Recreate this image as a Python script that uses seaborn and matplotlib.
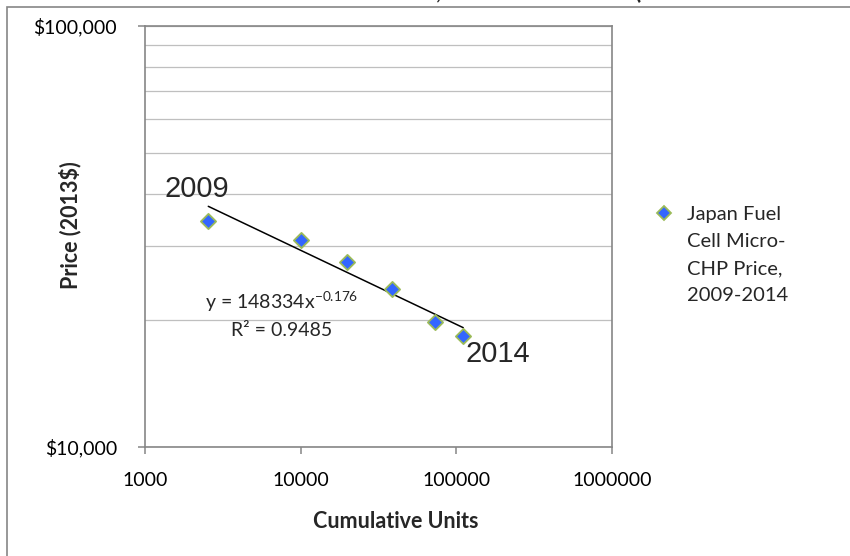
import numpy as np
import pandas as pd
import matplotlib
matplotlib.use("Agg")
import matplotlib.pyplot as plt
import matplotlib.patches as mpatches
from matplotlib.lines import Line2D
from matplotlib.ticker import FixedLocator, NullFormatter, NullLocator
import seaborn as sns

# Japan residential fuel cell (micro-CHP) price versus cumulative units installed
years = [2009, 2010, 2011, 2012, 2013, 2014]
cumulative_units = [2550, 10100, 19800, 38400, 72900, 110700]
price_2013_usd = [34500, 31000, 27500, 23700, 19850, 18350]

# Power-law trendline y = a * x^b
fit_a = 148334
fit_b = -0.176
fit_r2 = 0.9485

series_label = "Japan Fuel\nCell Micro-\nCHP Price,\n2009-2014"
x_ticks = [1000, 10000, 100000, 1000000]
x_tick_labels = ["1000", "10000", "100000", "1000000"]
y_ticks = [10000, 100000]
y_tick_labels = ["$10,000", "$100,000"]

df = pd.DataFrame({"year": years, "units": cumulative_units, "price": price_2013_usd})

sns.set_theme(style="white")
plt.rcParams["font.family"] = ["Lato", "DejaVu Sans"]
plt.rcParams["mathtext.fontset"] = "custom"
plt.rcParams["mathtext.rm"] = "Lato"
plt.rcParams["mathtext.it"] = "Lato"

W, H = 850, 556
fig = plt.figure(figsize=(W / 100, H / 100), dpi=100)
fig.patch.set_facecolor("white")

left, right, top, bottom = 145, 612, 26, 447
ax = fig.add_axes([left / W, 1 - bottom / H, (right - left) / W, (bottom - top) / H])

axis_grey = "#868686"
grid_grey = "#BFBFBF"
face_blue = "#3366FF"
edge_green = "#9BBB59"

# Trendline over the span of the data
trend_x = np.array([min(cumulative_units), max(cumulative_units)], dtype=float)
trend_df = pd.DataFrame({"units": trend_x, "price": fit_a * trend_x ** fit_b})
sns.lineplot(data=trend_df, x="units", y="price", color="black", linewidth=1.1, ax=ax,
             zorder=3)

sns.scatterplot(data=df, x="units", y="price", marker="D", s=60, color=face_blue,
                edgecolor=edge_green, linewidth=1.3, ax=ax, zorder=4, legend=False)

ax.set_xscale("log")
ax.set_yscale("log")
ax.set_xlim(1000, 1000000)
ax.set_ylim(10000, 100000)

ax.xaxis.set_major_locator(FixedLocator(x_ticks))
ax.set_xticklabels(x_tick_labels)
ax.xaxis.set_minor_locator(NullLocator())
ax.yaxis.set_major_locator(FixedLocator(y_ticks))
ax.set_yticklabels(y_tick_labels)
ax.yaxis.set_minor_locator(FixedLocator([v * 10000 for v in range(2, 10)]))
ax.yaxis.set_minor_formatter(NullFormatter())

ax.grid(False)
ax.grid(True, which="minor", axis="y", color=grid_grey, linewidth=0.9)
ax.grid(True, which="major", axis="y", color=grid_grey, linewidth=0.9)

for side in ["left", "bottom", "top", "right"]:
    ax.spines[side].set_visible(True)
    ax.spines[side].set_color(axis_grey)
    ax.spines[side].set_linewidth(1.2)

ax.tick_params(axis="both", which="major", direction="out", length=5, width=1.1,
               color=axis_grey, labelsize=14, labelcolor="black")
ax.tick_params(axis="x", which="major", pad=13)
ax.tick_params(axis="y", which="major", pad=15)
ax.tick_params(axis="y", which="minor", length=0)
ax.tick_params(bottom=True, left=True, top=False, right=False)

ax.set_xlabel("")
ax.set_ylabel("")
fig.text(396 / W, 1 - 522 / H, "Cumulative Units", ha="center", va="center",
         fontsize=15.5, fontweight="bold")
fig.text(70 / W, 1 - 225 / H, "Price (2013$)", ha="center", va="center",
         rotation=90, fontsize=15.5, fontweight="bold")

# Year labels at the ends of the series
ax.annotate(str(years[0]), xy=(cumulative_units[0], price_2013_usd[0]),
            xytext=(-8.6, 23), textcoords="offset points", ha="center", va="center",
            fontsize=21, family=["Liberation Sans", "DejaVu Sans"])
ax.annotate(str(years[-1]), xy=(cumulative_units[-1], price_2013_usd[-1]),
            xytext=(25, -13), textcoords="offset points", ha="center", va="center",
            fontsize=21, family=["Liberation Sans", "DejaVu Sans"])

# Trendline equation and R squared
eq_text = "y = %dx$^{%.3f}$" % (fit_a, fit_b)
ax.text((282 - left) / (right - left), (bottom - 302) / (bottom - top), eq_text,
        transform=ax.transAxes, ha="center", va="center", fontsize=14)
ax.text((282 - left) / (right - left), (bottom - 330) / (bottom - top),
        "R² = %.4f" % fit_r2, transform=ax.transAxes, ha="center", va="center",
        fontsize=14)

# Legend entry
fig.add_artist(Line2D([664 / W], [1 - 213 / H], marker="D", markersize=7.5,
                      markerfacecolor=face_blue, markeredgecolor=edge_green,
                      markeredgewidth=1.3, linestyle="none", transform=fig.transFigure))
fig.text(687 / W, 1 - 206 / H, series_label, ha="left", va="top", fontsize=14.5,
         linespacing=1.72)

# Chart area border
fig.add_artist(mpatches.Rectangle((7 / W, -0.2), 1.5, 1.2 - 7 / H,
                                  transform=fig.transFigure, fill=False,
                                  edgecolor=axis_grey, linewidth=1.2))

# Chart title
fig.text(161 / W, 1 + 1 / H, "Fuel Cell Micro-CHP Price, Cumulative Units (Real 2013 Dollars Per Unit)",
         ha="left", va="baseline", fontsize=17, fontweight="bold")

fig.savefig("out.png", dpi=100, facecolor="white")
